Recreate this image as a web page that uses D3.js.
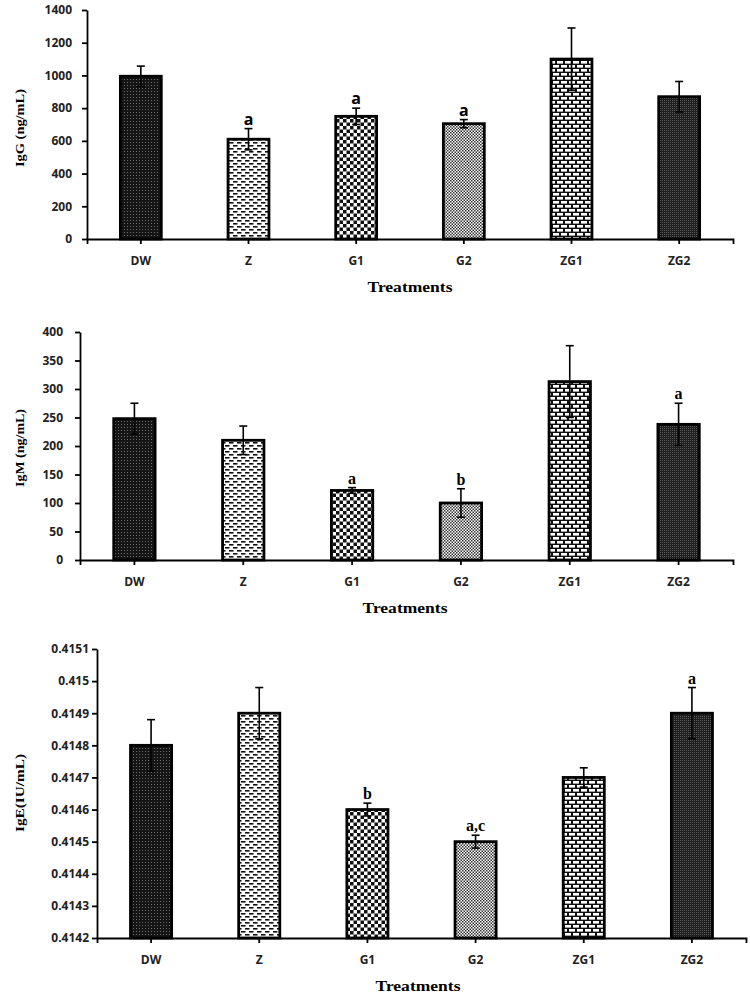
<!DOCTYPE html>
<html>
<head>
<meta charset="utf-8">
<script src="https://cdn.jsdelivr.net/npm/d3@7"></script>
<style>
  body { margin: 0; background: #fff; }
  .tick text { font-family: "Open Sans", sans-serif; font-weight: 700; font-size: 12px; fill: #222; }
  .axis path, .axis line { stroke: #000; stroke-width: 1.8px; }
</style>
</head>
<body>
<svg id="chart" width="750" height="1000"></svg>
<script>
// data
const treatments = ["DW", "Z", "G1", "G2", "ZG1", "ZG2"];

const iggMeans = [995, 610, 750, 705, 1100, 870];
const iggErrors = [62, 65, 50, 25, 190, 93];
const iggLetters = ["", "a", "a", "a", "", ""];
const iggTicks = [0, 200, 400, 600, 800, 1000, 1200, 1400];

const igmMeans = [248, 210, 122, 100, 313, 238];
const igmErrors = [27, 25, 5, 25, 63, 37];
const igmLetters = ["", "", "a", "b", "", "a"];
const igmTicks = [0, 50, 100, 150, 200, 250, 300, 350, 400];

const igeMeans = [0.4148, 0.4149, 0.4146, 0.4145, 0.4147, 0.4149];
const igeErrors = [0.00008, 0.00008, 0.00002, 0.00002, 0.00003, 0.00008];
const igeLetters = ["", "", "b", "a,c", "", "a"];
const igeTicks = [0.4142, 0.4143, 0.4144, 0.4145, 0.4146, 0.4147, 0.4148, 0.4149, 0.415, 0.4151];

const patternIds = ["pDW", "pZ", "pG1", "pG2", "pZG1", "pZG2"];

let svg = d3.select("#chart");
let defs = svg.append("defs");

// fill patterns, one per treatment
function makePattern(id, w, h, bg, rects) {
    let p = defs.append("pattern")
        .attr("id", id)
        .attr("patternUnits", "userSpaceOnUse")
        .attr("width", w)
        .attr("height", h);
    p.append("rect").attr("width", w).attr("height", h).attr("fill", bg);
    rects.forEach(function(r) {
        p.append("rect").attr("x", r[0]).attr("y", r[1]).attr("width", r[2]).attr("height", r[3]).attr("fill", r[4]);
    });
}
makePattern("pDW", 3, 3, "#151515", [[1, 1, 1, 1, "#6a6a6a"]]);
makePattern("pZ", 8, 6, "#fff", [[1, 1, 4.5, 1.6, "#111"], [5, 4, 4.5, 1.6, "#111"], [-3, 4, 4.5, 1.6, "#111"]]);
makePattern("pG1", 7, 7, "#fff", [[0, 0, 3.5, 3.5, "#111"], [3.5, 3.5, 3.5, 3.5, "#111"]]);
makePattern("pG2", 3, 3, "#fff", [[0, 0, 1.5, 1.5, "#333"], [1.5, 1.5, 1.5, 1.5, "#333"]]);
makePattern("pZG1", 16, 8, "#111", [[1, 1, 6, 2.6, "#fff"], [9, 1, 6, 2.6, "#fff"], [5, 5, 6, 2.6, "#fff"], [13, 5, 6, 2.6, "#fff"], [-3, 5, 6, 2.6, "#fff"]]);
makePattern("pZG2", 2, 2, "#1e1e1e", [[0, 0, 1, 1, "#5a5a5a"]]);

function drawPanel(cfg, means, errors, letters, ticks, yLabel) {
    let x = d3.scaleBand()
        .domain(treatments)
        .range([cfg.left, cfg.right])
        .paddingInner(0.62)
        .paddingOuter(0.31);

    let y = d3.scaleLinear()
        .domain([ticks[0], ticks[ticks.length - 1]])
        .range([cfg.bottom, cfg.top]);

    let g = svg.append("g");

    // bars
    g.selectAll("rect.bar")
        .data(treatments)
        .enter()
        .append("rect")
        .attr("class", "bar")
        .attr("x", d => x(d))
        .attr("y", (d, i) => y(means[i]))
        .attr("width", x.bandwidth())
        .attr("height", (d, i) => y(ticks[0]) - y(means[i]))
        .attr("fill", (d, i) => `url(#${patternIds[i]})`)
        .attr("stroke", "#000")
        .attr("stroke-width", 2.8);

    // error bars
    let cx = d => x(d) + x.bandwidth() / 2;
    let err = g.selectAll("g.err")
        .data(treatments)
        .enter()
        .append("g")
        .attr("class", "err")
        .attr("stroke", "#000")
        .attr("stroke-width", 1.6);
    err.append("line")
        .attr("x1", cx).attr("x2", cx)
        .attr("y1", (d, i) => y(means[i] - errors[i]))
        .attr("y2", (d, i) => y(means[i] + errors[i]));
    err.append("line")
        .attr("x1", d => cx(d) - 4).attr("x2", d => cx(d) + 4)
        .attr("y1", (d, i) => y(means[i] + errors[i]))
        .attr("y2", (d, i) => y(means[i] + errors[i]));
    err.append("line")
        .attr("x1", d => cx(d) - 4).attr("x2", d => cx(d) + 4)
        .attr("y1", (d, i) => y(means[i] - errors[i]))
        .attr("y2", (d, i) => y(means[i] - errors[i]));

    // significance letters
    g.selectAll("text.letter")
        .data(treatments)
        .enter()
        .append("text")
        .attr("class", "letter")
        .attr("x", cx)
        .attr("y", (d, i) => y(means[i] + errors[i]) - 4)
        .attr("text-anchor", "middle")
        .style("font-family", cfg.letterFont)
        .style("font-weight", 700)
        .style("font-size", "16px")
        .text((d, i) => letters[i]);

    // axes
    g.append("g")
        .attr("class", "axis")
        .attr("transform", `translate(${cfg.left},0)`)
        .call(d3.axisLeft(y).tickValues(ticks).tickSize(5).tickSizeOuter(0).tickPadding(cfg.yPad)
            .tickFormat(d => String(+d.toFixed(4))));

    g.append("g")
        .attr("class", "axis")
        .attr("transform", `translate(0,${cfg.bottom})`)
        .call(d3.axisBottom(x).tickSize(5).tickSizeOuter(5).tickPadding(12));

    // axis titles
    g.append("text")
        .attr("transform", `translate(${cfg.titleX},${cfg.bottom + 53})`)
        .attr("text-anchor", "middle")
        .attr("textLength", 85)
        .attr("lengthAdjust", "spacingAndGlyphs")
        .style("font-family", "Liberation Serif, serif")
        .style("font-weight", 700)
        .style("font-size", "14px")
        .text("Treatments");

    g.append("text")
        .attr("transform", `translate(24,${cfg.labelY}) rotate(-90)`)
        .attr("text-anchor", "middle")
        .attr("textLength", 78)
        .attr("lengthAdjust", "spacingAndGlyphs")
        .style("font-family", "Liberation Serif, serif")
        .style("font-weight", 700)
        .style("font-size", "13px")
        .text(yLabel);
}

drawPanel({left: 87, right: 733, top: 10, bottom: 239, yPad: 10, titleX: 410, labelY: 128, letterFont: "Open Sans, sans-serif"},
    iggMeans, iggErrors, iggLetters, iggTicks, "IgG (ng/mL)");
drawPanel({left: 80, right: 733, top: 332, bottom: 560, yPad: 12, titleX: 405, labelY: 448, letterFont: "Liberation Serif, serif"},
    igmMeans, igmErrors, igmLetters, igmTicks, "IgM (ng/mL)");
drawPanel({left: 97, right: 746, top: 649, bottom: 938, yPad: 3, titleX: 418, labelY: 793, letterFont: "Liberation Serif, serif"},
    igeMeans, igeErrors, igeLetters, igeTicks, "IgE(IU/mL)");
</script>
</body>
</html>
